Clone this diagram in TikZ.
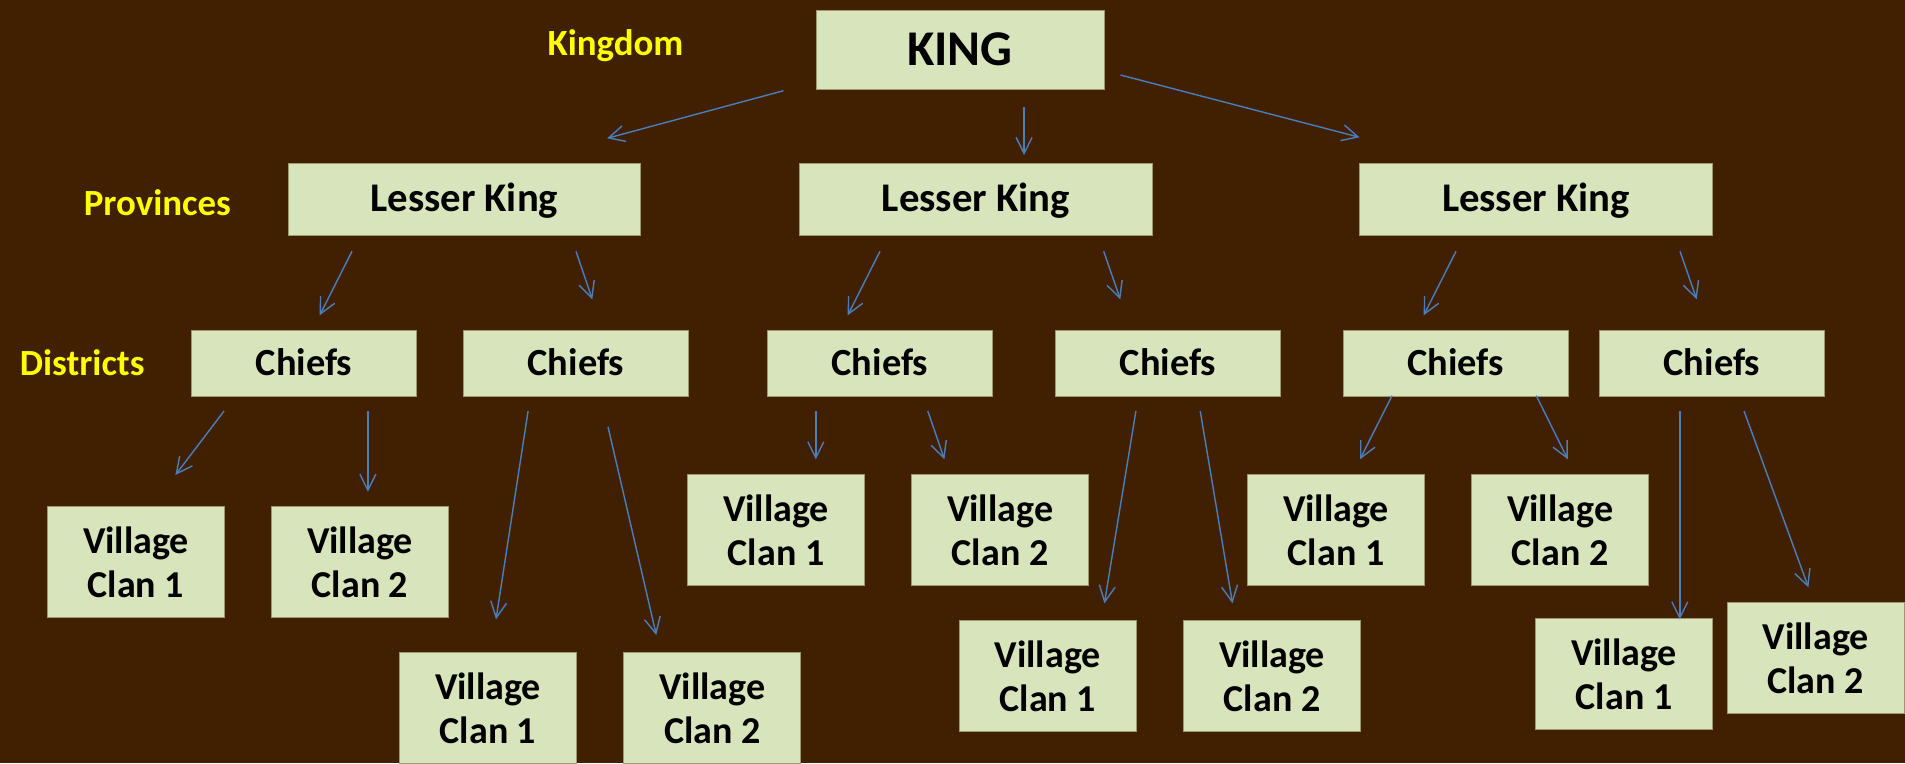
\documentclass[tikz,border=0pt]{standalone}
\usepackage{fontspec}
\setmainfont{Carlito}
\usetikzlibrary{arrows.meta}
\definecolor{bgc}{HTML}{402000}
\definecolor{boxfill}{HTML}{D8E4BC}
\definecolor{boxline}{HTML}{9C9A6C}
\definecolor{arrc}{HTML}{4A7EBB}
\definecolor{lab}{HTML}{FFFF00}
\tikzset{
 box/.style={draw=boxline, line width=1pt, fill=boxfill, inner sep=0pt, text=black, align=center},
 kingbox/.style={box, minimum width=288pt, minimum height=79pt, text height=31.7pt, text depth=0pt, font=\bfseries\fontsize{50}{60}\selectfont},
 lkbox/.style={box, minimum width=352.6pt, minimum height=72pt, text height=25.7pt, text depth=0pt, font=\bfseries\fontsize{40.7}{48}\selectfont},
 chbox/.style={box, minimum width=225pt, minimum height=66pt, text height=24.3pt, text depth=0pt, font=\bfseries\fontsize{38.4}{44}\selectfont},
 villbox/.style={box, minimum width=177pt, minimum height=111pt, font=\bfseries\fontsize{38}{44}\selectfont},
 lbl/.style={text=lab, font=\bfseries\fontsize{36.9}{44}\selectfont, inner sep=0pt, anchor=base},
 arr/.style={draw=arrc, line width=1.4pt, -{Straight Barb[length=16pt,width=16pt]}},
}
\begin{document}
\begin{tikzpicture}[x=1pt,y=-1pt]
\fill[bgc] (0,0) rectangle (1905,763);
\useasboundingbox (0,0) rectangle (1905,763);
% labels
\node[lbl] (lkd) at (615.5,55) {Kingdom};
\node[lbl] (lpr) at (157.4,215) {Provinces};
\node[lbl] (ldi) at (82.2,375) {Districts};
% boxes
\node[kingbox] (K) at (960,49.5) {KING};
\node[lkbox] (L1) at (464.3,199) {Lesser King};
\node[lkbox] (L2) at (975.8,199) {Lesser King};
\node[lkbox] (L3) at (1535.9,199) {Lesser King};
\node[chbox] (C1) at (304,363) {Chiefs};
\node[chbox] (C2) at (575.9,363) {Chiefs};
\node[chbox] (C3) at (879.9,363) {Chiefs};
\node[chbox] (C4) at (1168,363) {Chiefs};
\node[chbox] (C5) at (1455.8,363) {Chiefs};
\node[chbox] (C6) at (1711.9,363) {Chiefs};
\node[villbox] (V1) at (136,562) {Village\\Clan 1};
\node[villbox] (V2) at (360,562) {Village\\Clan 2};
\node[villbox] (V3) at (488,708.2) {Village\\Clan 1};
\node[villbox] (V4) at (712.3,708.2) {Village\\Clan 2};
\node[villbox] (V5) at (776,530) {Village\\Clan 1};
\node[villbox] (V6) at (1000.1,530) {Village\\Clan 2};
\node[villbox] (V7) at (1047.8,676) {Village\\Clan 1};
\node[villbox] (V8) at (1272,676) {Village\\Clan 2};
\node[villbox] (V9) at (1336,530) {Village\\Clan 1};
\node[villbox] (V10) at (1560.1,530) {Village\\Clan 2};
\node[villbox] (V11) at (1624,673.8) {Village\\Clan 1};
\node[villbox] (V12) at (1815.7,657.8) {Village\\Clan 2};
% arrow end points
\coordinate (kL1s) at (783.5,90.7);   \coordinate (kL1e) at (607.1,138.3);
\coordinate (kL2s) at (1024.1,107.3); \coordinate (kL2e) at (1024.1,155);
\coordinate (kL3s) at (1120.5,75);    \coordinate (kL3e) at (1359.5,137.3);
\coordinate (L1C1s) at (352,251.3);    \coordinate (L1C1e) at (319.7,315.3);
\coordinate (L1C2s) at (576,251.3);    \coordinate (L1C2e) at (592.3,299.3);
\coordinate (L2C3s) at (880,251.3);    \coordinate (L2C3e) at (847.7,315.3);
\coordinate (L2C4s) at (1103.7,251.3); \coordinate (L2C4e) at (1120.3,299.3);
\coordinate (L3C5s) at (1456,251.3);   \coordinate (L3C5e) at (1423.7,315.3);
\coordinate (L3C6s) at (1680,251.3);   \coordinate (L3C6e) at (1696.7,299.3);
\coordinate (C1V1s) at (224.1,411);    \coordinate (C1V1e) at (175.4,475);
\coordinate (C1V2s) at (367.9,411);    \coordinate (C1V2e) at (367.9,491.7);
\coordinate (C2V3s) at (528.1,411);    \coordinate (C2V3e) at (496,619.3);
\coordinate (C2V4s) at (608,426.7);    \coordinate (C2V4e) at (656.3,635);
\coordinate (C3V5s) at (815.8,411);    \coordinate (C3V5e) at (815.8,459.3);
\coordinate (C3V6s) at (927.8,411);    \coordinate (C3V6e) at (944.4,459.3);
\coordinate (C4V7s) at (1135.9,411);   \coordinate (C4V7e) at (1104.4,603.3);
\coordinate (C4V8s) at (1200.2,411);   \coordinate (C4V8e) at (1232.5,603.3);
\coordinate (C5V9s) at (1392,395.7);   \coordinate (C5V9e) at (1360,459.3);
\coordinate (C5V10s) at (1536.3,395.7); \coordinate (C5V10e) at (1567.8,459.3);
\coordinate (C6V11s) at (1679.8,411);  \coordinate (C6V11e) at (1679.8,619.3);
\coordinate (C6V12s) at (1744,411);    \coordinate (C6V12e) at (1808.4,587.3);
% arrows
\foreach \a in {kL1,kL2,kL3,L1C1,L1C2,L2C3,L2C4,L3C5,L3C6,C1V1,C1V2,C2V3,C2V4,C3V5,C3V6,C4V7,C4V8,C5V9,C5V10,C6V11,C6V12}
  \draw[arr] (\a s) -- (\a e);
\end{tikzpicture}
\end{document}
